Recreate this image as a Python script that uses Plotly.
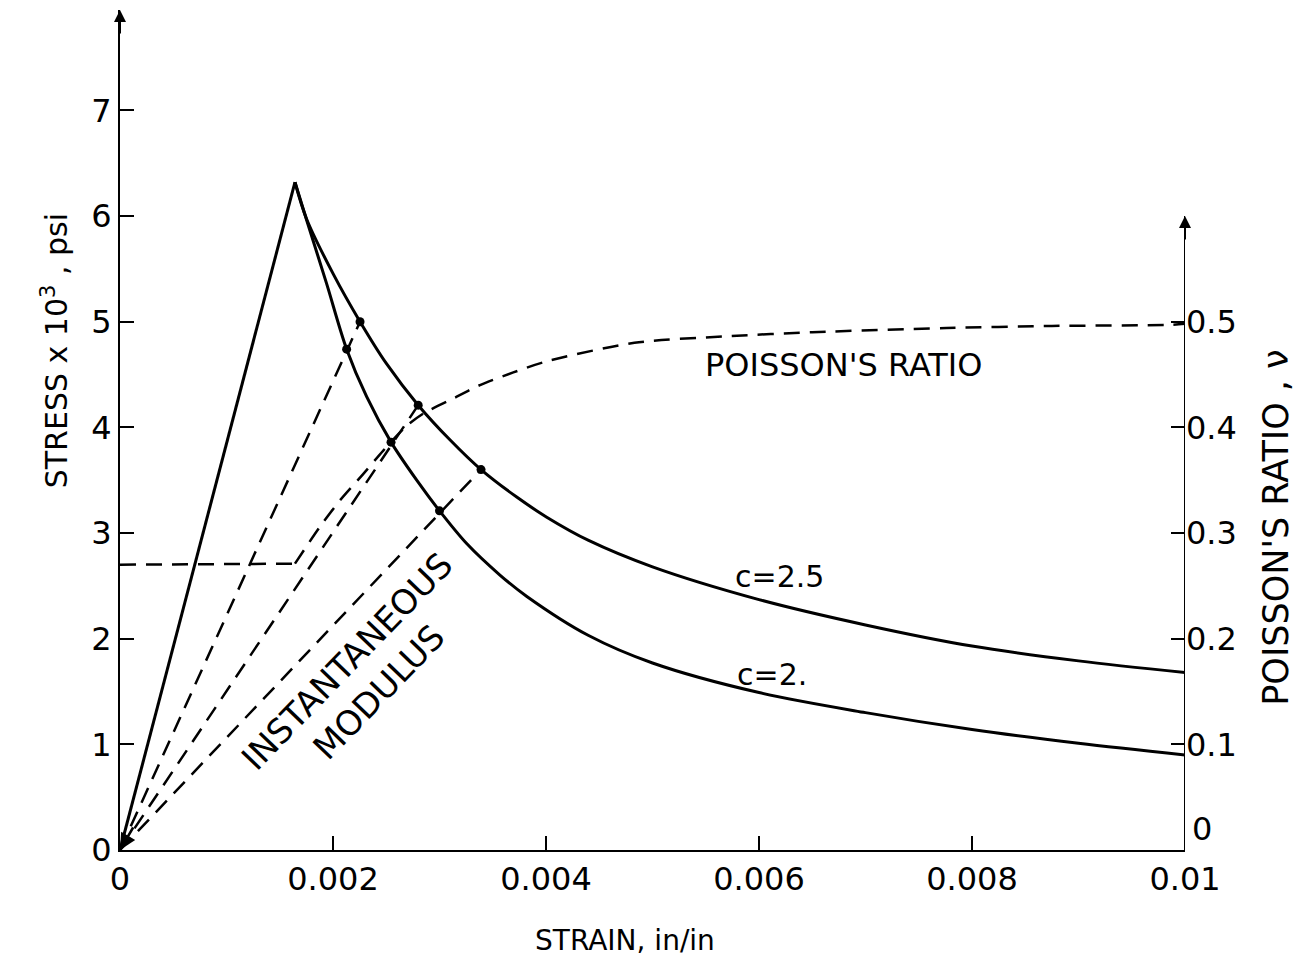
import plotly.graph_objects as go

# ---------------- data ----------------
# stress (x10^3 psi) vs strain for c = 2.5 (index 0-1: common linear rise)
strain_c25 = [0, 0.001643, 0.001753, 0.002003, 0.002254, 0.002504, 0.0028, 0.0031, 0.00339,
              0.003725, 0.004007, 0.0044, 0.005, 0.006, 0.007, 0.008, 0.009, 0.01]
stress_c25 = [0, 6.32, 5.97, 5.45, 5.00, 4.60, 4.21, 3.88, 3.60,
              3.34, 3.15, 2.93, 2.68, 2.37, 2.13, 1.93, 1.79, 1.68]

# stress vs strain for c = 2
strain_c2 = [0, 0.001643, 0.001753, 0.00194, 0.002128, 0.002316, 0.002545, 0.002786, 0.0030,
             0.003255, 0.00357, 0.00382, 0.0044, 0.005, 0.006, 0.007, 0.008, 0.009, 0.01]
stress_c2 = [0, 6.32, 5.96, 5.36, 4.74, 4.29, 3.86, 3.50, 3.21,
             2.90, 2.60, 2.40, 2.03, 1.77, 1.49, 1.30, 1.14, 1.01, 0.90]

# marked points (instantaneous modulus secants)
pts_c25_strain = [0.002254, 0.0028, 0.00339]
pts_c25_stress = [5.00, 4.21, 3.60]
pts_c2_strain = [0.002128, 0.002545, 0.0030]
pts_c2_stress = [4.74, 3.86, 3.21]

# Poisson's ratio vs strain (index 0-1: constant part)
strain_nu = [0, 0.001643, 0.001878, 0.002066, 0.002285, 0.002472, 0.002676, 0.002848, 0.003162,
             0.00338, 0.003693, 0.00399, 0.00483, 0.00566, 0.0065, 0.00776, 0.00875, 0.00986, 0.01]
nu = [0.270, 0.271, 0.306, 0.331, 0.356, 0.378, 0.400, 0.413, 0.429,
      0.440, 0.452, 0.462, 0.480, 0.486, 0.490, 0.494, 0.496, 0.497, 0.498]

x_tickvals = [0, 0.002, 0.004, 0.006, 0.008, 0.01]
x_ticktext = ["0", "0.002", "0.004", "0.006", "0.008", "0.01"]
y_tickvals = [0, 1, 2, 3, 4, 5, 6, 7]
y2_tickvals = [0.1, 0.2, 0.3, 0.4, 0.5]
y2_ticktext = ["0.1", "0.2", "0.3", "0.4", "0.5"]

Y_MAX = 7.95
Y2_ARROW = 0.6

FONT = "DejaVu Sans, Verdana, sans-serif"
BLACK = "black"
DASH = "16px,10px"
TICKFONT = dict(size=32, family=FONT, color=BLACK)

fig = go.Figure()

# common linear rise
fig.add_trace(go.Scatter(x=strain_c25[:2], y=stress_c25[:2], mode="lines",
                         line=dict(color=BLACK, width=3), showlegend=False))
# descending branches
fig.add_trace(go.Scatter(x=strain_c25[1:], y=stress_c25[1:], mode="lines",
                         line=dict(color=BLACK, width=3, shape="spline", smoothing=0.9),
                         showlegend=False))
fig.add_trace(go.Scatter(x=strain_c2[1:], y=stress_c2[1:], mode="lines",
                         line=dict(color=BLACK, width=3, shape="spline", smoothing=0.9),
                         showlegend=False))

# secant (instantaneous modulus) dashed lines from origin
for xs, ys in zip(pts_c25_strain, pts_c25_stress):
    fig.add_trace(go.Scatter(x=[0, xs], y=[0, ys], mode="lines",
                             line=dict(color=BLACK, width=2.5, dash=DASH), showlegend=False))

fig.add_trace(go.Scatter(x=pts_c25_strain + pts_c2_strain, y=pts_c25_stress + pts_c2_stress,
                         mode="markers", marker=dict(color=BLACK, size=9), showlegend=False))

# Poisson's ratio
fig.add_trace(go.Scatter(x=strain_nu[:2], y=nu[:2], mode="lines", yaxis="y2",
                         line=dict(color=BLACK, width=2.5, dash=DASH), showlegend=False))
fig.add_trace(go.Scatter(x=strain_nu[1:], y=nu[1:], mode="lines", yaxis="y2",
                         line=dict(color=BLACK, width=2.5, dash=DASH, shape="spline", smoothing=0.8),
                         showlegend=False))

# right axis line
fig.add_shape(type="line", xref="x", yref="y2", x0=0.01, x1=0.01, y0=0, y1=Y2_ARROW,
              line=dict(color=BLACK, width=2))

# axis arrows
fig.add_annotation(x=0, y=Y_MAX, xref="x", yref="y", ax=0, ay=25, showarrow=True,
                   arrowhead=2, arrowsize=1.2, arrowwidth=2, arrowcolor=BLACK, text="")
fig.add_annotation(x=0.01, y=Y2_ARROW, xref="x", yref="y2", ax=0, ay=25, showarrow=True,
                   arrowhead=2, arrowsize=1.2, arrowwidth=2, arrowcolor=BLACK, text="")
# arrowhead at origin
fig.add_annotation(x=0, y=0, xref="x", yref="y", ax=14, ay=-24, showarrow=True,
                   arrowhead=2, arrowsize=1.3, arrowwidth=2.5, arrowcolor=BLACK, text="")

# right axis "0" label
fig.add_annotation(x=0.01, y=0.02, xref="x", yref="y2", text="0", showarrow=False,
                   xanchor="left", xshift=5, font=TICKFONT)

# axis titles
fig.add_annotation(x=0, y=4.72, xref="paper", yref="y", text="STRESS x 10<sup>3</sup> , psi",
                   textangle=-90, showarrow=False, xshift=-65, xanchor="center", yanchor="middle",
                   font=dict(size=30, family=FONT, color=BLACK))
fig.add_annotation(x=1, y=0.305, xref="paper", yref="y2", text="POISSON'S RATIO , ν",
                   textangle=-90, showarrow=False, xshift=91, xanchor="center", yanchor="middle",
                   font=dict(size=35, family=FONT, color=BLACK))
fig.add_annotation(x=0.00474, y=0, xref="x", yref="paper", text="STRAIN, in/in",
                   showarrow=False, yshift=-90, xanchor="center", yanchor="middle",
                   font=dict(size=28, family=FONT, color=BLACK))

# in-plot labels
fig.add_annotation(x=0.00679, y=4.59, xref="x", yref="y", text="POISSON'S RATIO",
                   showarrow=False, font=dict(size=32, family=FONT, color=BLACK))
fig.add_annotation(x=0.00619, y=2.59, xref="x", yref="y", text="c=2.5",
                   showarrow=False, font=dict(size=30, family=FONT, color=BLACK))
fig.add_annotation(x=0.00612, y=1.66, xref="x", yref="y", text="c=2.",
                   showarrow=False, font=dict(size=30, family=FONT, color=BLACK))
fig.add_annotation(x=0.002275, y=1.64, xref="x", yref="y", text="INSTANTANEOUS<br>MODULUS",
                   textangle=-46, showarrow=False,
                   font=dict(size=34, family=FONT, color=BLACK))

fig.update_layout(
    width=1305, height=963,
    margin=dict(l=112, r=128, t=2, b=121),
    paper_bgcolor="white", plot_bgcolor="white",
    font=dict(family=FONT, color=BLACK, size=30),
    xaxis=dict(range=[0, 0.01], tickvals=x_tickvals, ticktext=x_ticktext,
               ticks="inside", ticklen=14, tickwidth=2, tickcolor=BLACK,
               showline=True, linecolor=BLACK, linewidth=2, showgrid=False, zeroline=False,
               tickfont=TICKFONT),
    yaxis=dict(range=[0, Y_MAX], tickvals=y_tickvals,
               ticks="inside", ticklen=14, tickwidth=2, tickcolor=BLACK,
               showline=True, linecolor=BLACK, linewidth=2, showgrid=False, zeroline=False,
               tickfont=TICKFONT),
    yaxis2=dict(range=[0, Y_MAX / 10], overlaying="y", side="right",
                tickvals=y2_tickvals, ticktext=y2_ticktext,
                ticks="inside", ticklen=14, tickwidth=2, tickcolor=BLACK,
                showline=False, showgrid=False, zeroline=False,
                tickfont=TICKFONT),
)

fig.write_html("out.html")
